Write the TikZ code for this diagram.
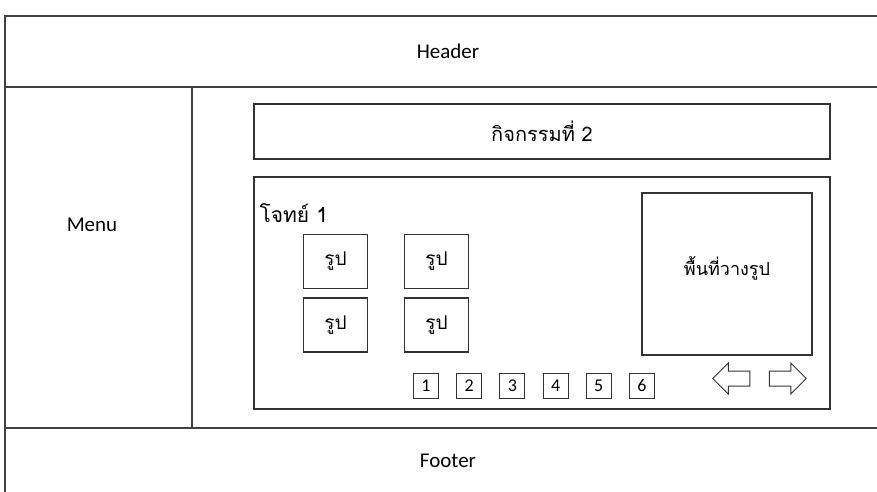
\documentclass[tikz,border=0pt]{standalone}
\usepackage{fontspec}
\setmainfont{Carlito}
\newfontfamily\thai[Script=Thai]{Loma}
\usetikzlibrary{shapes.arrows}

\begin{document}
\begin{tikzpicture}[x=1pt,y=-1pt,
    frame/.style={draw=black!75,line width=1.4pt},
    panel/.style={draw=black!80,line width=1.3pt,inner sep=0pt},
    picbox/.style={panel,minimum width=64pt,minimum height=54pt,
        font=\thai\fontsize{19}{22}\selectfont},
    numbox/.style={panel,line width=1pt,minimum width=25pt,minimum height=25pt,
        font=\fontsize{18}{20}\selectfont},
    navarrow/.style={single arrow,draw=black!80,line width=1pt,inner sep=0pt,
        inner ysep=7pt,minimum height=37pt,single arrow head extend=8pt},
    title/.style={font=\fontsize{21}{24}\selectfont}]
    \def\W{877}
    \def\H{491}
    \def\xl{5}      % left page edge
    \def\xm{192}    % menu | content
    \def\yh{87}     % header bottom
    \def\yf{428}    % footer top
    \clip (0,0) rectangle (\W,\H);

    % page frame
    \draw[frame] (\xl,16) rectangle (\W+10,\H+10);
    \draw[frame] (\xl,\yh) -- (\W+10,\yh);
    \draw[frame] (\xl,\yf) -- (\W+10,\yf);
    \draw[frame] (\xm,\yh) -- (\xm,\yf);

    \node[title] (header) at (448,51) {Header};
    \node[title] (menu) at (92,225) {Menu};
    \node[title] (footer) at (448,461) {Footer};

    % activity title bar
    \node[panel,minimum width=576pt,minimum height=55pt,
        font=\thai\fontsize{20}{23}\selectfont] (activity) at (542,131.5) {กิจกรรมที่ 2};

    % question panel
    \node[panel,minimum width=576pt,minimum height=232pt] (question) at (542,293) {};
    \node[anchor=west,font=\thai\fontsize{21}{24}\selectfont] (qtitle) at (256,213) {โจทย์ 1};

    %% picture choices
    \node[picbox] (pic1) at (335.5,261.5) {รูป};
    \node[picbox] (pic2) at (436.5,261.5) {รูป};
    \node[picbox] (pic3) at (335.5,325) {รูป};
    \node[picbox] (pic4) at (436.5,325) {รูป};

    % drop area, its text sits a bit above the middle
    \node[panel,minimum width=170pt,minimum height=162pt] (drop) at (727,274) {};
    \node[font=\thai\fontsize{18}{21}\selectfont] (droptext) at (727,268) {พื้นที่วางรูป};

    % page numbers
    \foreach \i in {1,...,6}
        \node[numbox] (num\i) at ({426+43.2*(\i-1)},385.5) {\i};

    % prev / next
    \node[navarrow,shape border rotate=180] (prev) at (735,378.5) {};
    \node[navarrow] (next) at (784,378.5) {};
\end{tikzpicture}
\end{document}
